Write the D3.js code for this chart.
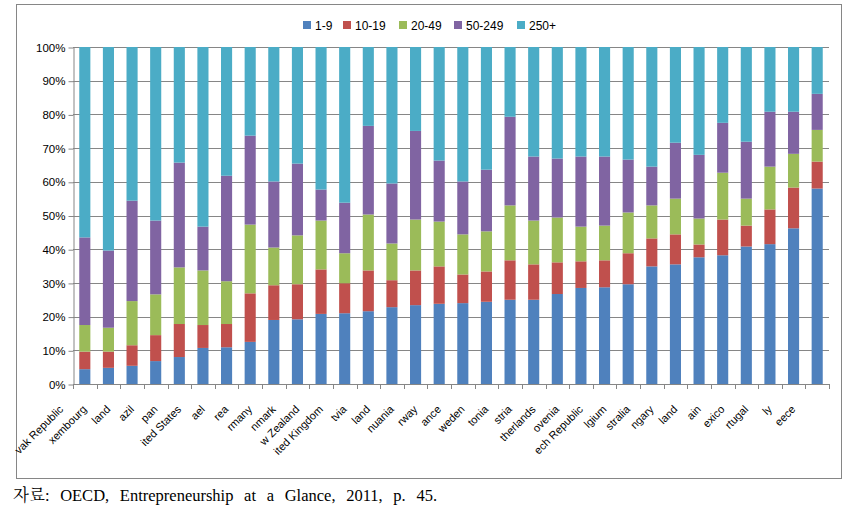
<!DOCTYPE html>
<html><head><meta charset="utf-8">
<script src="https://cdn.jsdelivr.net/npm/d3@7"></script>
<style>
body{margin:0;background:#fff;}
svg{display:block;}
</style></head>
<body>
<svg id="chart" width="866" height="514"></svg>
<script>
const categories = ["vak Republic","xembourg","land","azil","pan","ited States","ael","rea","rmany","nmark","w Zealand","ited Kingdom","tvia","land","nuania","rway","ance","weden","tonia","stria","therlands","ovenia","ech Republic","lgium","stralia","ngary","land","ain","exico","rtugal","ly","eece"];
const seriesNames = ["1-9","10-19","20-49","50-249","250+"];
const s1_9    = [4.4,4.8,5.4,6.8,8.0,10.7,10.9,12.5,19.0,19.2,20.8,21.0,21.6,22.8,23.4,23.8,24.0,24.4,25.0,25.0,26.7,28.5,28.7,29.6,34.9,35.5,37.6,38.2,40.8,41.5,46.2,58.0];
const s10_19  = [5.2,4.8,6.1,7.7,9.8,6.8,6.9,14.4,10.3,10.4,13.2,8.9,12.1,8.0,10.3,11.1,8.5,9.0,11.7,10.5,9.4,7.9,8.0,9.2,8.3,8.9,3.8,10.6,6.2,10.3,12.1,8.0];
const s20_49  = [7.9,7.1,13.1,12.1,16.8,16.2,12.7,20.4,11.2,14.5,14.5,8.9,16.6,10.9,15.1,13.3,11.9,11.9,16.3,13.0,13.3,10.3,10.3,12.1,9.8,10.6,7.7,13.9,8.0,12.7,10.0,9.4];
const s50_249 = [26.0,22.9,29.8,21.9,31.1,13.0,31.3,26.4,19.6,21.3,9.2,15.0,26.3,17.8,26.3,18.1,15.7,18.3,26.3,19.0,17.5,20.8,20.5,15.7,11.5,16.6,18.9,14.8,16.9,16.3,12.5,10.7];
const s250    = [56.5,60.4,45.6,51.5,34.3,53.3,38.2,26.3,39.9,34.6,42.3,46.2,23.4,40.5,24.9,33.7,39.9,36.4,20.7,32.5,33.1,32.5,32.5,33.4,35.5,28.4,32.0,22.5,28.1,19.2,19.2,13.9];
const yTicks = [0,10,20,30,40,50,60,70,80,90,100];
const colors = ["#4F81BD","#C0504D","#9BBB59","#8064A2","#4BACC6"];
const caption = "자료: OECD, Entrepreneurship at a Glance, 2011, p. 45.";

const seriesVals = [s1_9, s10_19, s20_49, s50_249, s250];
const rows = categories.map((c,i)=>{
  const r = {idx:i, cat:c};
  seriesNames.forEach((s,j)=>{ r[s] = seriesVals[j][i]; });
  return r;
});
const stacked = d3.stack().keys(seriesNames)(rows);

const svg = d3.select("#chart");
const pLeft = 73, pRight = 829, pTop = 47, pBottom = 384;
const gridColor = "#868686";
const font = "'Liberation Sans', Arial, sans-serif";

// outer frame
svg.append("rect").attr("x",16.5).attr("y",4.5).attr("width",825).attr("height",474)
  .attr("fill","none").attr("stroke",gridColor).attr("stroke-width",1);

const x = d3.scaleBand().domain(d3.range(categories.length)).range([pLeft,pRight]).paddingInner(0.53).paddingOuter(0.265);
const y = d3.scaleLinear().domain([0,100]).range([pBottom,pTop]);

// gridlines
svg.append("g").selectAll("line").data(yTicks).join("line")
  .attr("x1",pLeft).attr("x2",pRight)
  .attr("y1",d=>Math.round(y(d))+0.5).attr("y2",d=>Math.round(y(d))+0.5)
  .attr("stroke",gridColor).attr("stroke-width",1);

// bars
svg.append("g").selectAll("g").data(stacked).join("g")
  .attr("fill",(d,i)=>colors[i])
  .selectAll("rect").data(d=>d).join("rect")
  .attr("x",d=>x(d.data.idx))
  .attr("width",x.bandwidth())
  .attr("y",d=>y(d[1]))
  .attr("height",d=>y(d[0])-y(d[1]));

// y axis
const yAxis = d3.axisLeft(y).tickValues(yTicks).tickFormat(d=>d+"%").tickSize(5).tickSizeOuter(0);
const gy = svg.append("g").attr("transform",`translate(${pLeft+0.5},0.5)`).call(yAxis);
gy.select(".domain").attr("stroke",gridColor);
gy.selectAll(".tick line").attr("stroke",gridColor);
gy.selectAll(".tick text").attr("font-family",font).attr("font-size",11.5).attr("fill","#000").attr("x",-8);

// x axis line and ticks at band boundaries
const step = x.step();
const bounds = d3.range(categories.length+1).map(i=>pLeft + i*step);
svg.append("line").attr("x1",pLeft).attr("x2",pRight).attr("y1",pBottom+0.5).attr("y2",pBottom+0.5).attr("stroke",gridColor);
svg.append("g").selectAll("line").data(bounds).join("line")
  .attr("x1",d=>Math.round(d)+0.5).attr("x2",d=>Math.round(d)+0.5)
  .attr("y1",pBottom).attr("y2",pBottom+5).attr("stroke",gridColor);

// x labels
svg.append("g").selectAll("text").data(categories).join("text")
  .attr("transform",(d,i)=>`translate(${x(i)+x.bandwidth()/2-21},410) rotate(-45)`)
  .attr("text-anchor","end")
  .attr("font-family",font).attr("font-size",11)
  .attr("fill","#000")
  .text(d=>d);

// legend
const legendX = [303,343,399,454,517];
const lg = svg.append("g").selectAll("g").data(seriesNames).join("g")
  .attr("transform",(d,i)=>`translate(${legendX[i]},21)`);
lg.append("rect").attr("width",8).attr("height",8).attr("fill",(d,i)=>colors[i]);
lg.append("text").attr("x",12).attr("y",8.5).attr("font-family",font).attr("font-size",12).attr("fill","#000").text(d=>d);

// caption
const cap = svg.append("text").attr("x",13).attr("y",501)
  .attr("font-family","'Liberation Serif','Times New Roman','Noto Serif CJK KR','Noto Sans CJK KR',serif")
  .attr("font-size",16.5).attr("fill","#000").text(caption);
const w = cap.node().getComputedTextLength();
const nSpaces = caption.split(" ").length-1;
cap.attr("word-spacing", ((424 - w)/nSpaces).toFixed(2));
</script>
</body></html>
